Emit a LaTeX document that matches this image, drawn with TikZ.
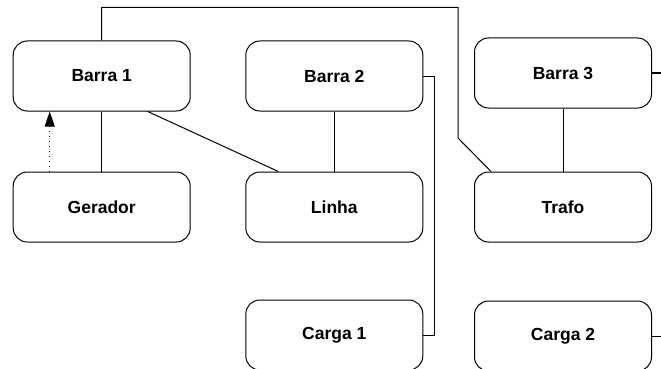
\documentclass[tikz,border=0pt]{standalone}
\usepackage{fontspec}
\setmainfont{Liberation Sans}
\usetikzlibrary{arrows.meta}
\begin{document}
\begin{tikzpicture}[x=1pt,y=-1pt,
  box/.style={draw=black, line width=1pt, rounded corners=14pt, minimum width=177pt, minimum height=70pt, inner sep=0pt, font=\fontsize{17.5}{20}\selectfont\bfseries},
  conn/.style={draw=black, line width=1pt}]
\useasboundingbox (0,0) rectangle (661,369);
\node[box] (b1) at (101.7,76) {Barra 1};
\node[box] (ger) at (101.7,207) {Gerador};
\node[box] (b2) at (334.3,76) {Barra 2};
\node[box] (lin) at (334.3,207) {Linha};
\node[box] (c1) at (334.3,335) {Carga 1};
\node[box] (b3) at (563,73) {Barra 3};
\node[box] (tr) at (563,207) {Trafo};
\node[box] (c2) at (563,336) {Carga 2};
\coordinate (bend) at (458,138);
\coordinate (e3) at (675,73);
\coordinate (e4) at (675,336);
\draw[conn] (b1.south) -- (ger.north);
\draw[conn, dash pattern=on 1pt off 4pt, -{Triangle[length=15pt,width=10pt]}] ([xshift=-52pt]ger.north) -- ([xshift=-52pt]b1.south);
\draw[conn] ([xshift=46pt]b1.south) -- ([xshift=-56pt]lin.north);
\draw[conn] (b2.south) -- (lin.north);
\draw[conn] (b2.east) -- ++(11,0) |- (c1.east);
\draw[conn] (b1.north) -- ++(0,-33) -| (bend) -- ([xshift=-72pt]tr.north);
\draw[conn] (b3.south) -- (tr.north);
\draw[conn] (b3.east) -- (e3);
\draw[conn] (c2.east) -- (e4);
\end{tikzpicture}
\end{document}
